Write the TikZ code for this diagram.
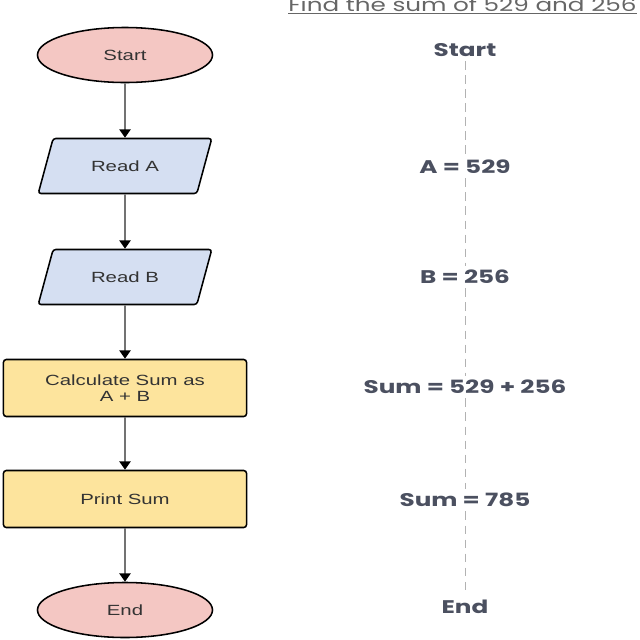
\documentclass[tikz,border=0pt]{standalone}
\usepackage{fontspec}
\usetikzlibrary{shapes.geometric,arrows.meta,backgrounds}
\newfontfamily\boxfont[FakeStretch=1.38]{Liberation Sans}
\newfontfamily\tracefont[FakeStretch=1.35]{Poppins}
\definecolor{termfill}{HTML}{F4C7C3}
\definecolor{iofill}{HTML}{D5DFF2}
\definecolor{procfill}{HTML}{FDE49D}
\definecolor{tracetext}{HTML}{4B5060}

\begin{document}
\begin{tikzpicture}[x=0.025cm,y=-0.025cm,
  term/.style={ellipse,draw=black,line width=1.1pt,fill=termfill,minimum width=4.375cm,minimum height=1.375cm,inner sep=0pt,font=\boxfont\fontsize{10.5}{12}\selectfont,text=black!80},
  io/.style={trapezium,trapezium left angle=57,trapezium right angle=123,trapezium stretches=true,draw=black,line width=1.1pt,rounded corners=2pt,fill=iofill,minimum width=4.35cm,minimum height=1.375cm,inner sep=0pt,font=\boxfont\fontsize{10.5}{12}\selectfont,text=black!80},
  proc/.style={rectangle,draw=black,line width=1.1pt,rounded corners=2pt,fill=procfill,minimum width=6.075cm,minimum height=1.425cm,align=center,font=\boxfont\fontsize{10.5}{11}\selectfont,text=black!80},
  flowarrow/.style={draw=black!55,line width=1.4pt,-{Triangle[black,length=6pt,width=8pt]}},
  tracelabel/.style={font=\tracefont\bfseries\fontsize{13}{15}\selectfont,text=tracetext,fill=white,inner sep=3pt},
  trace/.style={draw=black!30,line width=0.6pt,dash pattern=on 6pt off 4pt}]
  \useasboundingbox (0,0) rectangle (640,640);

  % flowchart
  \node[term] (start) at (125,55) {Start};
  \node[io] (readA) at (125,166) {Read A};
  \node[io] (readB) at (125,277) {Read B};
  \node[proc] (calc) at (125,388) {Calculate Sum as\\A + B};
  \node[proc] (print) at (125,499) {Print Sum};
  \node[term] (stop) at (125,610) {End};
  \foreach \a/\b in {start/readA,readA/readB,readB/calc,calc/print,print/stop}
    \draw[flowarrow] (\a) -- (\b);

  % trace of values
  \node[anchor=base west,inner sep=0pt,font=\tracefont\fontsize{13}{15}\selectfont,text=black!60] (title) at (288,11) {\underline{Find the sum of 529 and 256}};
  \node[tracelabel] (tStart) at (465,50) {Start};
  \node[tracelabel] (tA) at (465,167) {A = 529};
  \node[tracelabel] (tB) at (465,277) {B = 256};
  \node[tracelabel] (tSum) at (465,387) {Sum = 529 + 256};
  \node[tracelabel] (tRes) at (465,500) {Sum = 785};
  \node[tracelabel] (tEnd) at (465,607) {End};
  \begin{scope}[on background layer]
    \foreach \a/\b in {tStart/tA,tA/tB,tB/tSum,tSum/tRes,tRes/tEnd}
      \draw[trace] (\a) -- (\b);
  \end{scope}
\end{tikzpicture}
\end{document}
